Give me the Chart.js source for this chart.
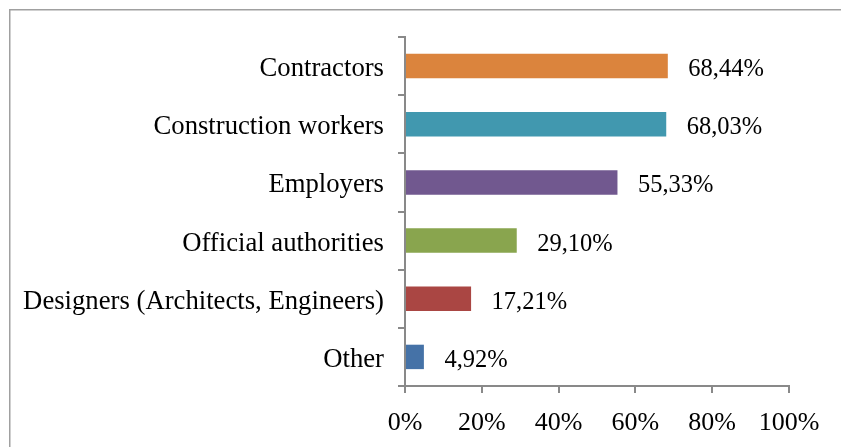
<!DOCTYPE html>
<html>
<head>
<meta charset="utf-8">
<script src="https://cdn.jsdelivr.net/npm/chart.js@4"></script>
<style>
html,body{margin:0;padding:0;background:#fff;}
#wrap{width:841px;height:447px;position:relative;}
</style>
</head>
<body>
<div id="wrap"><canvas id="c" width="841" height="447"></canvas></div>
<script>
const categories = ["Contractors","Construction workers","Employers","Official authorities","Designers (Architects, Engineers)","Other"];
const values = [68.44, 68.03, 55.33, 29.10, 17.21, 4.92];
const colors = ["#DB843D","#4198AF","#71588F","#89A54E","#AA4643","#4572A7"];
const xTicks = [0,20,40,60,80,100];

const FONT = "'Liberation Serif','Times New Roman',serif";

const frame = {
  id:'frame',
  beforeDraw(chart){
    const ctx = chart.ctx;
    ctx.save();
    ctx.strokeStyle = '#a0a0a0';
    ctx.lineWidth = 1.5;
    ctx.beginPath();
    ctx.moveTo(9.75, 447);
    ctx.lineTo(9.75, 9.75);
    ctx.lineTo(841, 9.75);
    ctx.stroke();
    ctx.restore();
  }
};

const categoryLabels = {
  id:'categoryLabels',
  afterDraw(chart){
    const ctx = chart.ctx;
    const y = chart.scales.y;
    ctx.save();
    ctx.font = "26.7px " + FONT;
    ctx.fillStyle = '#000';
    ctx.textAlign = 'right';
    ctx.textBaseline = 'alphabetic';
    categories.forEach((c, i) => {
      ctx.fillText(c, y.right - 21, y.getPixelForValue(i) + 10);
    });
    ctx.restore();
  }
};

const valueLabels = {
  id:'valueLabels',
  afterDatasetsDraw(chart){
    const ctx = chart.ctx;
    const meta = chart.getDatasetMeta(0);
    ctx.save();
    ctx.font = "24.5px " + FONT;
    ctx.fillStyle = '#000';
    ctx.textAlign = 'left';
    ctx.textBaseline = 'alphabetic';
    meta.data.forEach((bar, i) => {
      const txt = values[i].toFixed(2).replace('.', ',') + '%';
      ctx.fillText(txt, bar.x + 20.5, bar.y + 10);
    });
    ctx.restore();
  }
};

new Chart(document.getElementById('c'), {
  type:'bar',
  data:{
    labels: categories,
    datasets:[{
      data: values,
      backgroundColor: colors,
      borderWidth: 0,
      barPercentage: 0.42,
      categoryPercentage: 1.0
    }]
  },
  options:{
    indexAxis:'y',
    responsive:false,
    animation:false,
    devicePixelRatio:1,
    layout:{padding:{top:37, left:10, right:52, bottom:0}},
    plugins:{legend:{display:false}, tooltip:{enabled:false}},
    scales:{
      x:{
        min:0, max:100,
        afterBuildTicks(scale){ scale.ticks = xTicks.map(v => ({value:v})); },
        afterFit(scale){ scale.height = 447 - 386; },
        grid:{display:true, drawOnChartArea:false, drawTicks:true, tickLength:7, color:'#898989', lineWidth:2},
        border:{display:true, color:'#898989', width:2},
        ticks:{
          font:{family:FONT, size:26},
          color:'#000',
          padding:15,
          maxRotation:0,
          callback:(v) => v + '%'
        }
      },
      y:{
        afterFit(scale){ scale.width = 405 - 10; },
        grid:{display:true, drawOnChartArea:false, drawTicks:true, tickLength:7, offset:true, color:'#898989', lineWidth:2},
        border:{display:true, color:'#898989', width:2},
        ticks:{
          font:{family:FONT, size:26},
          color:'rgba(0,0,0,0)',
          padding:14
        }
      }
    }
  },
  plugins:[frame, categoryLabels, valueLabels]
});
</script>
</body>
</html>
